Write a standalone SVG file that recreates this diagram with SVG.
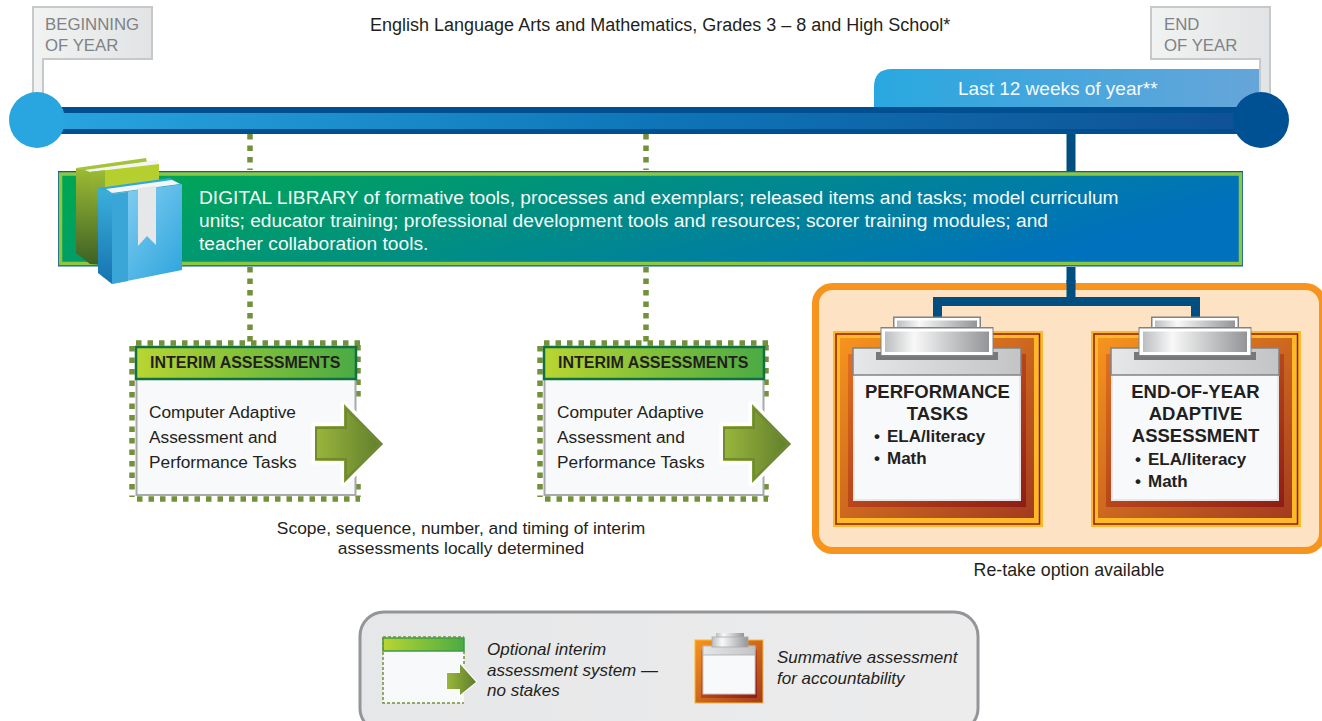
<svg xmlns="http://www.w3.org/2000/svg" width="1322" height="721" viewBox="0 0 1322 721">
<style>
text{font-family:"Liberation Sans",Arial,sans-serif;fill:#231f20}
.flag{fill:url(#gFlag);stroke:#c6c8ca;stroke-width:2}
.flagt{font-size:16.8px;fill:#808285}
.lib{font-size:19.2px;fill:#f4fbf6}
.body{font-size:17.3px}
.head{font-size:16px;font-weight:bold}
.clipt{font-size:18.5px;font-weight:bold}
.clipl{font-size:17px;font-weight:bold}
.cap{font-size:17.8px}
.cap2{font-size:17.4px}
.leg{font-size:17px;font-style:italic}
.dash{fill:none;stroke:#73903a;stroke-width:5.500;stroke-dasharray:5.500 6}
.solid{fill:none;stroke:#004f80;stroke-width:9}
</style>
<defs>
<linearGradient id="gFlag"><stop offset="0" stop-color="#f1f2f2"/><stop offset="1" stop-color="#e2e3e4"/></linearGradient>
<linearGradient id="gTab"><stop offset="0" stop-color="#29a8e0"/><stop offset="1" stop-color="#66a5d9"/></linearGradient>
<linearGradient id="gBar" gradientUnits="userSpaceOnUse" x1="40" y1="0" x2="1260" y2="0"><stop offset="0" stop-color="#29a5df"/><stop offset="0.5" stop-color="#0d76b8"/><stop offset="1" stop-color="#0f5093"/></linearGradient>
<linearGradient id="gLib" x1="0" y1="0" x2="1" y2="0.25"><stop offset="0" stop-color="#00a651"/><stop offset="0.12" stop-color="#00a45a"/><stop offset="1" stop-color="#0071bc"/></linearGradient>
<linearGradient id="gHead"><stop offset="0" stop-color="#b9d531"/><stop offset="1" stop-color="#4bab43"/></linearGradient>
<linearGradient id="gArrow"><stop offset="0" stop-color="#9ab63c"/><stop offset="1" stop-color="#5f7d2c"/></linearGradient>
<linearGradient id="gClip" x1="0" y1="0" x2="1" y2="1"><stop offset="0" stop-color="#f7941e"/><stop offset="1" stop-color="#a33b20"/></linearGradient>
<linearGradient id="gClipIn" x1="0" y1="0" x2="1" y2="1"><stop offset="0" stop-color="#e0701f"/><stop offset="1" stop-color="#8f1c14"/></linearGradient>
<linearGradient id="gMetal"><stop offset="0" stop-color="#bcbec0"/><stop offset="0.28" stop-color="#f8f8f8"/><stop offset="1" stop-color="#939598"/></linearGradient>
<linearGradient id="gBar2"><stop offset="0" stop-color="#e6e7e8"/><stop offset="1" stop-color="#c2c4c6"/></linearGradient>
<linearGradient id="gBookG" x1="0" y1="0" x2="0" y2="1"><stop offset="0" stop-color="#9dbb34"/><stop offset="1" stop-color="#3d6125"/></linearGradient>
<linearGradient id="gBookB" x1="0" y1="0" x2="0" y2="1"><stop offset="0" stop-color="#3bb0dc"/><stop offset="1" stop-color="#1673ae"/></linearGradient>
<linearGradient id="gBookF" x1="0" y1="0" x2="1" y2="1"><stop offset="0" stop-color="#8ed2f4"/><stop offset="1" stop-color="#2aa4dc"/></linearGradient>
<linearGradient id="gLegend"><stop offset="0" stop-color="#e6e7e8"/><stop offset="1" stop-color="#ececed"/></linearGradient>
<g id="interim">
<path class="dash" d="M136 343H360M132 346V497M137 499H360M358 345V398M358 484V497"/>
<rect x="136.500" y="347" width="219" height="148" fill="#f7f9fa" stroke="#a7a9ac" stroke-width="2"/>
<rect x="136" y="347" width="220" height="32" fill="url(#gHead)" stroke="#0f7040" stroke-width="2.500"/>
<path d="M315 426H344V404L383 444L344 483V461H315Z" fill="url(#gArrow)" stroke="#fff" stroke-width="7" stroke-linejoin="round" paint-order="stroke"/>
<path d="M316 428H346V409L380 444L346 479V459H316Z" fill="none" stroke="#6f8a33" stroke-width="2"/>
</g>
<g id="board">
<rect x="833" y="331" width="210" height="196" fill="#fdb927"/>
<rect x="836" y="334" width="203.500" height="190" fill="#fdb927" stroke="#8f1c14" stroke-width="1.500"/>
<rect x="840" y="338" width="194" height="180" fill="url(#gClip)"/>
<rect x="848" y="354" width="178" height="153" fill="url(#gClipIn)"/>
<rect x="854" y="350" width="166" height="150" fill="#f8f9fa" stroke="#e7e7e7" stroke-width="2"/>
<rect x="853" y="348" width="168" height="27" fill="url(#gBar2)" stroke="#808285" stroke-width="1.500"/>
<rect x="876" y="352" width="122" height="8" fill="#77787b"/>
<rect x="893" y="316.500" width="88" height="16" fill="#808285"/>
<rect x="894.500" y="318" width="85" height="14" fill="#fff"/>
<rect x="897" y="320.500" width="80" height="12" fill="url(#gMetal)"/>
<rect x="880.500" y="327" width="113" height="29.500" fill="#808285"/>
<rect x="881.500" y="328.500" width="111" height="26.500" fill="#fff"/>
<rect x="885" y="331.500" width="104" height="20.500" fill="url(#gMetal)"/>
</g>
</defs>
<rect width="1322" height="721" fill="#fff"/>

<g id="connectors">
<path class="dash" d="M250 134V170M250 267V342M646 134V170M646 267V342"/>
<path class="solid" d="M1071 134V171M1071 267V301.500M937.500 317V301.500H1195.500V317"/>
</g>

<g id="begin-flag">
<path class="flag" d="M33 7H152V59H43V95H33Z"/>
<text class="flagt" x="45" y="30">BEGINNING</text>
<text class="flagt" x="45" y="51">OF YEAR</text>
</g>
<g id="end-flag">
<path class="flag" d="M1151 7H1270V95H1260V59H1151Z"/>
<text class="flagt" x="1164" y="30">END</text>
<text class="flagt" x="1164" y="51">OF YEAR</text>
</g>
<text id="title" x="370" y="31" font-size="18">English Language Arts and Mathematics, Grades 3 – 8 and High School*</text>

<g id="last-12-weeks">
<path d="M874 108V87Q874 69 892 69H1259V108Z" fill="url(#gTab)"/>
<text x="958" y="95" font-size="19" style="fill:#f5fafd">Last 12 weeks of year**</text>
</g>
<g id="timeline">
<rect x="40" y="107" width="1220" height="27" fill="#004f91"/>
<rect x="40" y="113" width="1220" height="16" fill="url(#gBar)"/>
<circle cx="37" cy="120" r="28" fill="#29a5df"/>
<circle cx="1261" cy="120" r="28" fill="#005094"/>
</g>

<g id="digital-library">
<rect x="58" y="171" width="1185" height="95.500" fill="#0a5ca8"/>
<rect x="60.500" y="174" width="1180" height="89.500" fill="url(#gLib)" stroke="#8dc63f" stroke-width="3.500"/>
<text class="lib" x="199" y="204">DIGITAL LIBRARY of formative tools, processes and exemplars; released items and tasks; model curriculum</text>
<text class="lib" x="199" y="227">units; educator training; professional development tools and resources; scorer training modules; and</text>
<text class="lib" x="199" y="250">teacher collaboration tools.</text>
<g id="books">
<path d="M76 168L104 172V265L90 264L76 253Z" fill="url(#gBookG)"/>
<path d="M76 168L146 158L147 162L90 172Z" fill="#a3c43a"/>
<path d="M85 170L158 160V164L90 172Z" fill="#f4f4f4"/>
<path d="M90 172L159 164V240H90Z" fill="#b5d02e"/>
<path d="M90 172L105 170V264L90 264Z" fill="url(#gBookG)"/>
<path d="M98 188L112 194V284L98 273Z" fill="url(#gBookB)"/>
<path d="M98 188L170 178L181 184L112 194Z" fill="#2fa8dd"/>
<path d="M106 189L172 180L180 184L112 193Z" fill="#f5f5f5"/>
<path d="M112 194L182 184V270L112 284Z" fill="url(#gBookF)"/>
<path d="M112 194L128 192V281L112 284Z" fill="#3aa6d8"/>
<path d="M138 188L156 186V245L147 236L138 246Z" fill="#e6e7e8"/>
</g>
</g>

<g id="interim-1"><use href="#interim"/>
<text class="head" x="150" y="368">INTERIM ASSESSMENTS</text>
<text class="body" x="149" y="418">Computer Adaptive</text>
<text class="body" x="149" y="443">Assessment and</text>
<text class="body" x="149" y="468">Performance Tasks</text>
</g>
<g id="interim-2"><use href="#interim" x="408"/>
<text class="head" x="558" y="368">INTERIM ASSESSMENTS</text>
<text class="body" x="557" y="418">Computer Adaptive</text>
<text class="body" x="557" y="443">Assessment and</text>
<text class="body" x="557" y="468">Performance Tasks</text>
</g>
<g id="interim-note">
<text class="cap2" x="461" y="534" text-anchor="middle">Scope, sequence, number, and timing of interim</text>
<text class="cap2" x="461" y="554" text-anchor="middle">assessments locally determined</text>
</g>

<g id="summative">
<rect x="815.500" y="286.500" width="507" height="264" rx="17" fill="#fde2c3" stroke="#f7941e" stroke-width="7"/>
<path class="solid" d="M1071 280V301.500M937.500 317V301.500H1195.500V317"/>
</g>
<g id="performance-tasks"><use href="#board"/>
<text class="clipt" x="937.500" y="398" text-anchor="middle">PERFORMANCE</text>
<text class="clipt" x="937.500" y="420" text-anchor="middle">TASKS</text>
<text class="clipl" x="874" y="442">•</text><text class="clipl" x="887" y="442">ELA/literacy</text>
<text class="clipl" x="874" y="464">•</text><text class="clipl" x="887" y="464">Math</text>
</g>
<g id="end-of-year"><use href="#board" x="258"/>
<text class="clipt" x="1195.500" y="398" text-anchor="middle">END-OF-YEAR</text>
<text class="clipt" x="1195.500" y="420" text-anchor="middle">ADAPTIVE</text>
<text class="clipt" x="1195.500" y="442" text-anchor="middle">ASSESSMENT</text>
<text class="clipl" x="1135" y="465">•</text><text class="clipl" x="1148" y="465">ELA/literacy</text>
<text class="clipl" x="1135" y="487">•</text><text class="clipl" x="1148" y="487">Math</text>
</g>
<text id="retake" class="cap" x="1069" y="576" text-anchor="middle">Re-take option available</text>

<g id="legend">
<rect x="360" y="612" width="618" height="120" rx="24" fill="url(#gLegend)" stroke="#939598" stroke-width="3"/>
<g id="legend-interim">
<rect x="383" y="637" width="81" height="66" fill="#f8f9fa"/>
<rect x="383" y="638" width="81" height="13" fill="url(#gHead)" stroke="#3d9a48" stroke-width="1.500"/>
<path d="M383 637H464M383 637V703H464M464 651V665" fill="none" stroke="#73903a" stroke-width="1.500" stroke-dasharray="3 2"/>
<path d="M447 673H460V664L476 682L460 695V689H447Z" fill="url(#gArrow)" stroke="#fff" stroke-width="2" paint-order="stroke"/>
</g>
<text class="leg" x="487" y="655">Optional interim</text>
<text class="leg" x="487" y="676">assessment system —</text>
<text class="leg" x="487" y="696">no stakes</text>
<g id="legend-summative">
<rect x="695" y="640" width="68" height="63" fill="url(#gClip)" stroke="#fdb927" stroke-width="1"/>
<rect x="701" y="650" width="56" height="48" fill="url(#gClipIn)"/>
<rect x="703" y="646" width="52" height="48" fill="#f8f9fa" stroke="#c8c8c8"/>
<rect x="703" y="646" width="52" height="9" fill="url(#gBar2)" stroke="#aaa" stroke-width="0.800"/>
<rect x="716" y="633" width="28" height="5" fill="url(#gMetal)"/>
<rect x="712" y="637" width="36" height="10" fill="url(#gMetal)" stroke="#aaa" stroke-width="0.800"/>
</g>
<text class="leg" x="777" y="663">Summative assessment</text>
<text class="leg" x="777" y="684">for accountability</text>
</g>
</svg>
